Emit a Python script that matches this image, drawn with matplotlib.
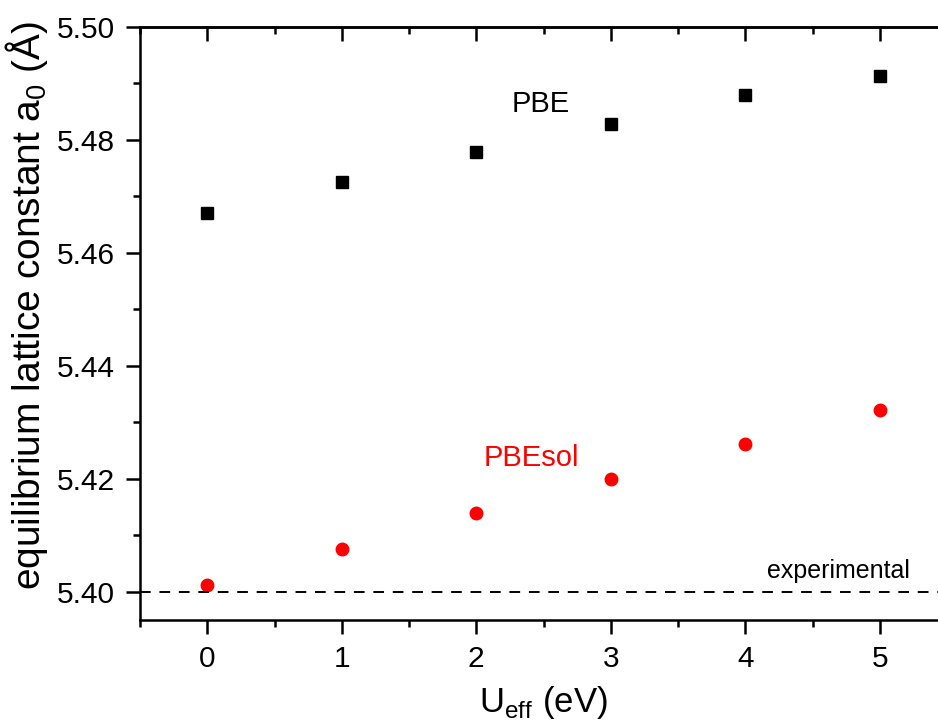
import numpy as np
import matplotlib
matplotlib.use('Agg')
import matplotlib.pyplot as plt
from matplotlib.ticker import MultipleLocator, FormatStrFormatter

plt.rcParams['font.family'] = ['Liberation Sans', 'DejaVu Sans']
plt.rcParams['mathtext.fontset'] = 'custom'
plt.rcParams['mathtext.rm'] = 'Liberation Sans'

u_eff = [0, 1, 2, 3, 4, 5]
a_pbe = [5.4671, 5.4726, 5.4778, 5.4829, 5.4879, 5.4913]
a_pbesol = [5.4012, 5.4075, 5.4139, 5.4199, 5.4261, 5.4321]
a_exp = 5.40

fig = plt.figure(figsize=(9.38, 7.28), dpi=100)
ax = fig.add_axes([0.1493, 0.1484, 0.8603, 0.8145])

ax.plot(u_eff, a_pbe, 's', color='black', markersize=8)
ax.plot(u_eff, a_pbesol, 'o', color='red', markersize=9)
ax.axhline(a_exp, color='black', linestyle=(0, (5.5, 4.5)), linewidth=1.4)

ax.text(2.48, 5.4863, 'PBE', fontsize=21, color='black', ha='center', va='center')
ax.text(2.41, 5.4236, 'PBEsol', fontsize=21, color='red', ha='center', va='center')
ax.text(4.69, 5.4036, 'experimental', fontsize=18, color='black', ha='center', va='center')

ax.set_xlim(-0.5, 5.5)
ax.set_ylim(5.395, 5.50)
ax.xaxis.set_major_locator(MultipleLocator(1))
ax.xaxis.set_minor_locator(MultipleLocator(0.5))
ax.yaxis.set_major_locator(MultipleLocator(0.02))
ax.yaxis.set_minor_locator(MultipleLocator(0.01))
ax.yaxis.set_major_formatter(FormatStrFormatter('%.2f'))

for s in ax.spines.values():
    s.set_linewidth(1.8)
ax.tick_params(axis='both', which='major', length=10, width=1.8, labelsize=21.5, direction='out')
ax.tick_params(axis='both', which='minor', length=5, width=1.8, direction='out')
ax.tick_params(axis='x', which='both', pad=8)
ax.tick_params(axis='y', which='both', pad=8, right=True)

# top ticks point inward
secx = ax.secondary_xaxis('top')
secx.xaxis.set_major_locator(MultipleLocator(1))
secx.xaxis.set_minor_locator(MultipleLocator(0.5))
secx.tick_params(which='major', direction='in', length=10, width=1.8, labeltop=False)
secx.tick_params(which='minor', direction='in', length=5, width=1.8)
secx.spines['top'].set_linewidth(1.8)

ax.set_xlabel(r'U$_{\mathrm{eff}}$ (eV)', fontsize=25, labelpad=8)
ax.set_ylabel(r'equilibrium lattice constant a$_{\mathrm{0}}$ (Å)', fontsize=28)
ax.yaxis.set_label_coords(-0.112, 0.53)

fig.savefig('out.png', dpi=100)
